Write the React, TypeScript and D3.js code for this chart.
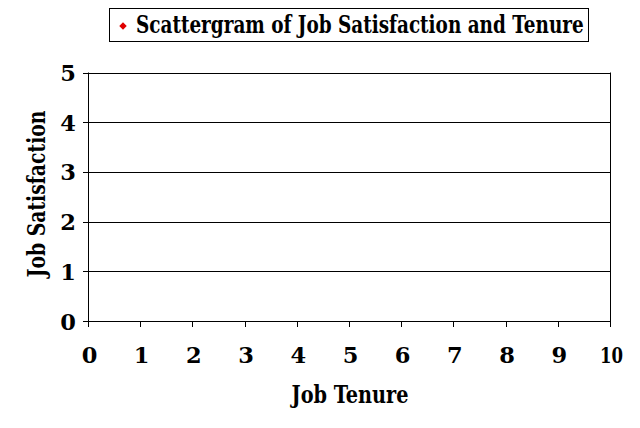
import React, { useLayoutEffect, useRef, useState } from "react";
import * as d3 from "d3";

const title = "Scattergram of Job Satisfaction and Tenure";
const xAxisTitle = "Job Tenure";
const yAxisTitle = "Job Satisfaction";
const xTicks = [0, 1, 2, 3, 4, 5, 6, 7, 8, 9, 10];
const yTicks = [0, 1, 2, 3, 4, 5];
// The reference shows no plotted points
const tenure: number[] = [];
const satisfaction: number[] = [];

const W = 640;
const H = 428;
const FONT = "'DejaVu Serif', 'Liberation Serif', serif";

type FitProps = {
  x: number;
  y: number;
  width: number;
  size: number;
  anchor?: "start" | "middle" | "end";
  rotate?: number;
  children: string;
};

// Bold serif text squeezed horizontally to the width it has in the reference
function FitText({ x, y, width, size, anchor = "start", rotate = 0, children }: FitProps) {
  const ref = useRef<SVGTextElement>(null);
  const [sx, setSx] = useState(1);
  useLayoutEffect(() => {
    if (ref.current) {
      const w = ref.current.getComputedTextLength();
      if (w > 0) setSx(Math.min(1, width / w));
    }
  }, [width, children]);
  return (
    <text
      ref={ref}
      transform={`translate(${x},${y}) rotate(${rotate}) scale(${sx},1)`}
      textAnchor={anchor}
      fontFamily={FONT}
      fontWeight="bold"
      fontSize={size}
      fill="#000"
    >
      {children}
    </text>
  );
}

export default function App() {
  const left = 88, right = 610, top = 72.5, bottom = 321;
  const x = d3.scaleLinear().domain([0, 10]).range([left, right]);
  const y = d3.scaleLinear().domain([0, 5]).range([bottom, top]);
  const points = tenure.map((t, i) => ({ t, s: satisfaction[i] }));
  const diamond = d3.symbol().type(d3.symbolDiamond2).size(36)();

  return (
    <svg
      width={W}
      height={H}
      viewBox={`0 0 ${W} ${H}`}
      style={{ position: "absolute", left: 0, top: 0, background: "#fff" }}
    >
      <rect x={0} y={0} width={W} height={H} fill="#fff" />
      {/* gridlines */}
      {yTicks.map((v) => (
        <line key={"g" + v} x1={left} x2={right} y1={Math.round(y(v)) + 0.5} y2={Math.round(y(v)) + 0.5} stroke="#000" strokeWidth={1} />
      ))}
      {/* plot border */}
      <line x1={left + 0.5} x2={left + 0.5} y1={top} y2={bottom + 0.5} stroke="#000" />
      <line x1={right + 0.5} x2={right + 0.5} y1={top} y2={bottom + 0.5} stroke="#000" />
      {/* y ticks */}
      {yTicks.map((v) => (
        <g key={"y" + v}>
          <line x1={left - 5} x2={left} y1={Math.round(y(v)) + 0.5} y2={Math.round(y(v)) + 0.5} stroke="#000" />
          <text x={76} y={y(v) + 8.5} textAnchor="end" fontFamily={FONT} fontWeight="bold" fontSize={22.5} fill="#000">
            {v}
          </text>
        </g>
      ))}
      {/* x ticks */}
      {xTicks.map((v) => {
        const s = String(v);
        return (
          <g key={"x" + v}>
            <line x1={Math.round(x(v)) + 0.5} x2={Math.round(x(v)) + 0.5} y1={bottom} y2={bottom + 6} stroke="#000" />
            {s.length > 1 ? (
              <FitText x={x(v) + 1.5} y={363} width={23} size={22.5} anchor="middle">
                {s}
              </FitText>
            ) : (
              <text x={x(v) + 1.5} y={363} textAnchor="middle" fontFamily={FONT} fontWeight="bold" fontSize={22.5} fill="#000">
                {s}
              </text>
            )}
          </g>
        );
      })}
      {/* points */}
      {points.map((p, i) => (
        <path key={i} d={diamond || ""} transform={`translate(${x(p.t)},${y(p.s)})`} fill="#e00000" />
      ))}
      {/* axis titles */}
      <FitText x={350} y={403} width={117} size={24} anchor="middle">
        {xAxisTitle}
      </FitText>
      <FitText x={44.5} y={194} width={167} size={24} anchor="middle" rotate={-90}>
        {yAxisTitle}
      </FitText>
      {/* legend */}
      <rect x={109.5} y={8.5} width={479} height={33} fill="#fff" stroke="#000" />
      <path d={diamond || ""} transform="translate(123,26)" fill="#e00000" />
      <FitText x={136} y={33} width={448} size={24}>
        {title}
      </FitText>
    </svg>
  );
}
